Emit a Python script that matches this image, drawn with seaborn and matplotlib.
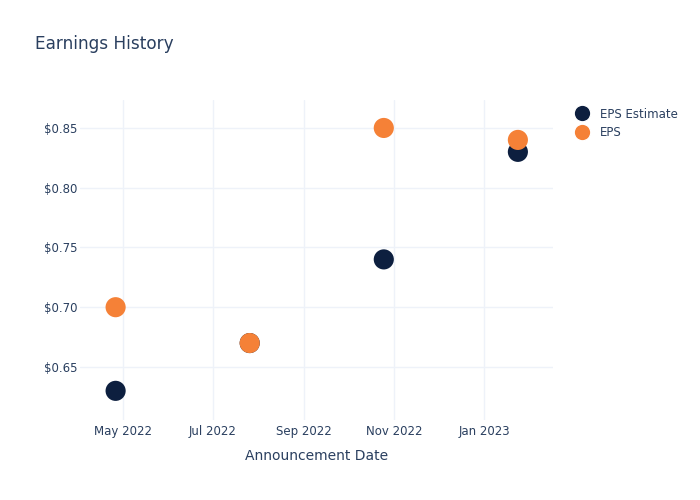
import matplotlib
matplotlib.use("Agg")
import matplotlib.pyplot as plt
import matplotlib.dates as mdates
import seaborn as sns
import pandas as pd
from matplotlib.ticker import FuncFormatter
from matplotlib.lines import Line2D

dates = ["2022-04-26", "2022-07-26", "2022-10-25", "2023-01-24"]
eps_estimate = [0.63, 0.67, 0.74, 0.83]
eps_actual = [0.70, 0.67, 0.85, 0.84]
series_names = ["EPS Estimate", "EPS"]
colors = {"EPS Estimate": "#0d1f3f", "EPS": "#f58137"}
xtick_dates = ["2022-05-01", "2022-07-01", "2022-09-01", "2022-11-01", "2023-01-01"]
xtick_labels = ["May 2022", "Jul 2022", "Sep 2022", "Nov 2022", "Jan 2023"]
ytick_values = [0.65, 0.70, 0.75, 0.80, 0.85]

df = pd.concat([
    pd.DataFrame({"date": pd.to_datetime(dates), "value": eps_estimate, "series": series_names[0]}),
    pd.DataFrame({"date": pd.to_datetime(dates), "value": eps_actual, "series": series_names[1]}),
])

sns.set_theme(style="white")
plt.rcParams["font.family"] = ["DejaVu Sans"]
text_color = "#2a3f5f"

fig = plt.figure(figsize=(7, 5), dpi=100)
ax = fig.add_axes([80/700, 1-420/500, (553-80)/700, (420-100)/500])

sns.scatterplot(data=df, x="date", y="value", hue="series", palette=colors,
                s=210, linewidth=0, ax=ax, legend=False, zorder=3)

ax.set_xlim(pd.Timestamp("2022-04-01 20:00"), pd.Timestamp("2023-02-16 20:00"))
ax.set_ylim(0.6056, 0.8734)
ax.set_xticks(pd.to_datetime(xtick_dates))
ax.set_xticklabels(xtick_labels)
ax.set_yticks(ytick_values)
ax.yaxis.set_major_formatter(FuncFormatter(lambda v, p: f"${v:.2f}"))
ax.grid(True, color="#eef2f9", linewidth=1)
ax.set_axisbelow(True)
for s in ax.spines.values():
    s.set_visible(False)
ax.tick_params(axis="both", length=0, labelsize=8.5, labelcolor=text_color)
ax.tick_params(axis="x", pad=3.5)
ax.tick_params(axis="y", pad=2)
ax.set_xlabel("Announcement Date", fontsize=10, color=text_color, labelpad=8)
ax.set_ylabel("")

fig.text(35/700, 1-44/500, "Earnings History", fontsize=12.2, color=text_color, va="center", ha="left")

handles = [Line2D([0], [0], marker="o", color="w", markerfacecolor=colors[n], markersize=12, linewidth=0)
           for n in series_names]
fig.legend(handles, series_names, loc="upper left", bbox_to_anchor=(563/700, 1-97/500),
           frameon=False, fontsize=8.5, labelcolor=text_color, handletextpad=0.85,
           labelspacing=0.45, handlelength=1.4)

fig.savefig("out.png", dpi=100)
